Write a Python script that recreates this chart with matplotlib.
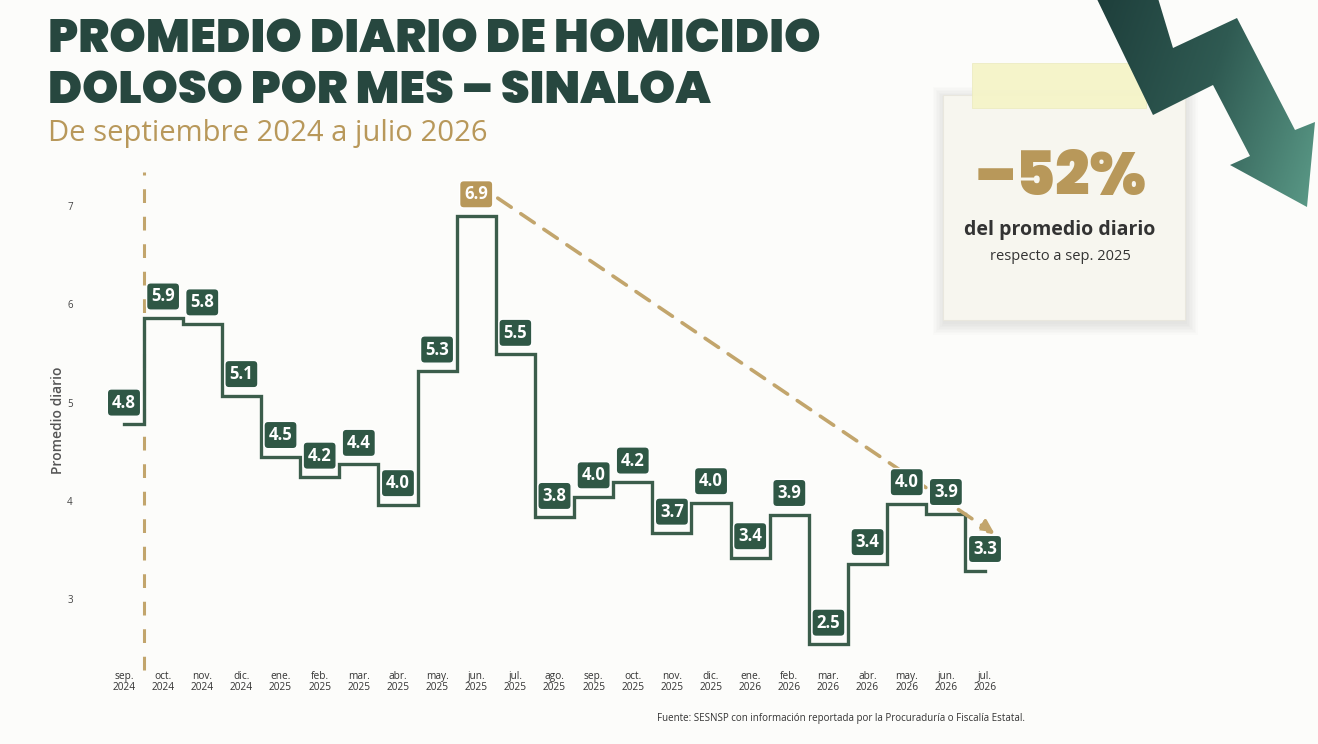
import matplotlib
matplotlib.use("Agg")
import matplotlib.pyplot as plt
import numpy as np
import os
from matplotlib.patches import Polygon, Rectangle
from matplotlib import font_manager as fm
from matplotlib.font_manager import FontProperties
from matplotlib.colors import LinearSegmentedColormap

# ---------------- data ----------------
months = ["sep.\n2024", "oct.\n2024", "nov.\n2024", "dic.\n2024", "ene.\n2025", "feb.\n2025",
          "mar.\n2025", "abr.\n2025", "may.\n2025", "jun.\n2025", "jul.\n2025", "ago.\n2025",
          "sep.\n2025", "oct.\n2025", "nov.\n2025", "dic.\n2025", "ene.\n2026", "feb.\n2026",
          "mar.\n2026", "abr.\n2026", "may.\n2026", "jun.\n2026", "jul.\n2026"]
values = [4.78, 5.86, 5.80, 5.07, 4.45, 4.24, 4.37, 3.96, 5.32, 6.90, 5.49, 3.83,
          4.04, 4.19, 3.67, 3.98, 3.42, 3.86, 2.54, 3.36, 3.97, 3.87, 3.29]
yticks = [3, 4, 5, 6, 7]
highlight_index = 9          # jun. 2025 peak
trend_start = (9.55, 7.08)   # dashed trend arrow, data coords
trend_end = (22.25, 3.66)

title_lines = ["PROMEDIO DIARIO DE HOMICIDIO", "DOLOSO POR MES – SINALOA"]
subtitle = "De septiembre 2024 a julio 2026"
note_big = "–52%"
note_l1 = "del promedio diario"
note_l2 = "respecto a sep. 2025"
source = "Fuente: SESNSP con información reportada por la Procuraduría o Fiscalía Estatal."
ylabel = "Promedio diario"

# ---------------- fonts ----------------
def heavy_font():
    prefs = ["Poppins-Black", "Poppins-ExtraBold", "Lato-Black", "Lato-Heavy", "Roboto-Black",
             "Inter-Black", "Inter-ExtraBold", "NotoSans-Black", "OpenSans-ExtraBold",
             "NotoSans-ExtraBold", "Lato-Bold", "Roboto-Bold"]
    files = {os.path.splitext(os.path.basename(f.fname))[0].replace(" ", ""): f.fname
             for f in fm.fontManager.ttflist}
    for p in prefs:
        for k, v in files.items():
            if k.lower() == p.lower():
                return FontProperties(fname=v)
    heavy = [f for f in fm.fontManager.ttflist if isinstance(f.weight, int) and f.weight >= 800
             and "italic" not in f.fname.lower()]
    if heavy:
        return FontProperties(fname=heavy[0].fname)
    return FontProperties(family="DejaVu Sans", weight="bold")

HEAVY = heavy_font()
SANS = ["Open Sans", "DejaVu Sans"]

# ---------------- style ----------------
BG = "#fcfcfa"
DKGREEN = "#27473f"
LINE = "#3b5d4b"
BOX = "#2f5745"
TAN = "#b8985a"
TAN_L = "#c2a56c"

W, H = 1318, 744
fig = plt.figure(figsize=(W / 100, H / 100), dpi=100, facecolor=BG)

deco = fig.add_axes([0, 0, 1, 1], zorder=0)
deco.axis("off")
deco.set_facecolor("none")

# ---------------- main chart ----------------
ax = fig.add_axes([100.5 / W, 1 - 667.8 / H, 908 / W, 501.1 / H], zorder=2)
ax.set_facecolor("none")
x = np.arange(len(values))
ax.set_xlim(-0.6, len(values) - 1 + 0.6)
ax.set_ylim(2.3, 7.4)

ax.vlines(0.5, 2.28, 7.35, colors=TAN_L, linestyles=(0, (4.5, 4.5)), lw=2.2, clip_on=False, zorder=1)

ax.step(x, values, where="mid", color=LINE, lw=2.4, zorder=3, solid_joinstyle="miter")

for i, v in enumerate(values):
    fc = TAN if i == highlight_index else BOX
    ax.annotate(f"{v:.1f}", (i, v), xytext=(0, 15.5), textcoords="offset points",
                ha="center", va="center", fontsize=12, fontweight="bold", color="white",
                family=SANS, zorder=5,
                bbox=dict(boxstyle="round,pad=0.28,rounding_size=0.25", fc=fc, ec="white", lw=1.0))

ax.annotate("", xy=trend_end, xytext=trend_start,
            arrowprops=dict(arrowstyle="-|>,head_length=0.8,head_width=0.4", color=TAN_L,
                            lw=2.6, linestyle=(0, (4.5, 3.2)), shrinkA=0, shrinkB=0),
            zorder=4)

ax.set_xticks(x)
ax.set_xticklabels(months, fontsize=7.3, color="#333333", family=SANS, linespacing=1.0)
ax.set_yticks(yticks)
ax.set_yticklabels([str(t) for t in yticks], fontsize=7, color="#444444", family=SANS)
ax.tick_params(axis="both", length=0)
ax.tick_params(axis="y", pad=20)
ax.tick_params(axis="x", pad=2)
for s in ax.spines.values():
    s.set_visible(False)

fig.text(58 / W, 1 - 420 / H, ylabel, rotation=90, ha="center", va="center",
         fontsize=10, fontweight="semibold", color="#555555", family=SANS)

# ---------------- titles ----------------
fig.canvas.draw()
renderer = fig.canvas.get_renderer()

def fit_text(axes, xp, yp, s, width_px, size0, **kw):
    t = axes.text(xp, yp, s, fontsize=size0, **kw)
    bb = t.get_window_extent(renderer=renderer)
    t.set_fontsize(size0 * width_px / bb.width)
    return t

for line, base in zip(title_lines, [52, 103]):
    target = 770 if line == title_lines[0] else 663
    fit_text(deco, 48, base, line, target, 33, ha="left", va="baseline",
             color=DKGREEN, fontproperties=HEAVY)
fit_text(deco, 48, 141, subtitle, 440, 21, ha="left", va="baseline", color=TAN, family=SANS)
fit_text(deco, 657, 718, source, 371, 7, ha="left", va="center", color="#333333", family=SANS)

# ---------------- sticky note ----------------
for k in range(8):
    d = 1 + 1.5 * k
    deco.add_patch(Rectangle((943 - d + 1, 95 - d + 3), 242 + 2 * d, 225 + 2 * d,
                             fc="#000000", ec="none", alpha=0.012, zorder=1))
deco.add_patch(Rectangle((943, 95), 242, 225, fc="#f7f6ef", ec="#e9e7de", lw=0.8, zorder=2))
deco.add_patch(Rectangle((972, 63), 174, 45, fc="#f5f4c8", ec="#ecebc0", lw=0.6, zorder=3, alpha=0.95))

fit_text(deco, 1061, 195, note_big, 172, 44, ha="center", va="baseline",
         color=TAN, fontproperties=HEAVY, zorder=4)
deco.text(1060, 230, note_l1, ha="center", va="center", fontsize=14, fontweight="bold",
          color="#333333", family=SANS, zorder=4)
deco.text(1060, 256, note_l2, ha="center", va="center", fontsize=10.5,
          color="#333333", family=SANS, zorder=4)

# ---------------- zigzag arrow with gradient ----------------
arrow_pts = [(1095, -5), (1153, 115), (1213, 85), (1250, 156), (1230, 165),
             (1307, 207), (1315, 122), (1295, 130), (1237, 18), (1173, 48), (1157, -5)]
poly = Polygon(arrow_pts, closed=True, fc="none", ec="none", zorder=5)
deco.add_patch(poly)
gx, gy = np.meshgrid(np.linspace(0, 1, 200), np.linspace(0, 1, 200))
grad = gx * 0.75 + gy * 0.25
cmap = LinearSegmentedColormap.from_list("g", ["#1d3d3a", "#2f5a52", "#5c9c89"])
im = deco.imshow(grad, extent=(1090, 1318, 210, -5), cmap=cmap, zorder=5, aspect="auto",
                 interpolation="bilinear")
im.set_clip_path(poly)
deco.set_xlim(0, W)
deco.set_ylim(H, 0)

fig.savefig("out.png", dpi=100, facecolor=BG)
